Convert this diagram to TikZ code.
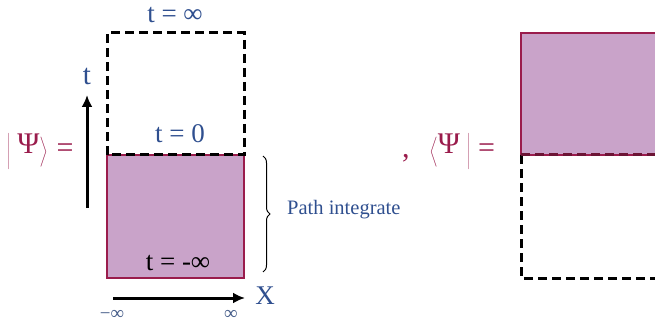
\documentclass[tikz,border=0pt]{standalone}
\usepackage{fontspec}
\setmainfont{Liberation Serif}
\usetikzlibrary{arrows.meta,decorations.pathreplacing}
\definecolor{tblue}{HTML}{2F4F8F}
\definecolor{pred}{HTML}{9A1C4C}
\definecolor{pfill}{HTML}{C9A3C9}
\newcommand\psistrut{\rule[-12pt]{0pt}{30pt}}
\newcommand\psiup{\raisebox{5pt}{Ψ}}
\tikzset{
  dashbox/.style={draw=black,line width=3pt,dash pattern=on 9pt off 5pt},
  solidbox/.style={fill=pfill,draw=pred,line width=1.5pt},
  lbl/.style={text=tblue,font=\fontsize{27}{29}\selectfont,inner sep=0pt},
  axis/.style={line width=3pt,-{Latex[length=12pt,width=11pt]}},
  smalllbl/.style={text=tblue!70!gray,font=\fontsize{19}{20}\selectfont,inner sep=0pt},
  braket/.style={text=pred,font=\fontsize{30}{32}\selectfont,inner sep=0pt}
}
\begin{document}
\begin{tikzpicture}[x=1pt,y=-1pt]
\useasboundingbox (0,0) rectangle (655,323);
% left box
\coordinate (LTL) at (107,33);
\coordinate (LTR) at (244,33);
\coordinate (LML) at (107,155);
\coordinate (LMR) at (244,155);
\coordinate (LBL) at (107,278);
\coordinate (LBR) at (244,278);
\draw[solidbox] (LML) rectangle (LBR);
\draw[dashbox] (LML) -- (LTL) -- (LTR) -- (LMR) -- cycle;
% right box
\coordinate (RTL) at (521,33);
\coordinate (RTR) at (660,33);
\coordinate (RML) at (521,155);
\coordinate (RMR) at (660,155);
\coordinate (RBL) at (521,278);
\coordinate (RBR) at (660,278);
\draw[solidbox] (RTL) rectangle (RMR);
\draw[dashbox] (RML) -- (RBL) -- (RBR) -- (RMR);
\draw[dashbox,draw=pred!70!black] (RML) -- (RMR);
% labels
\node[lbl] (tinf) at (175,15) {t = ∞};
\node[lbl] (tzero) at (180,134) {t = 0};
\node[lbl,text=black] (tminf) at (178,263) {t = -∞};
\node[lbl,font=\fontsize{29}{31}\selectfont] (tlab) at (87,76) {t};
\coordinate (tstart) at (87,208);
\coordinate (tend) at (87,95);
\draw[axis] (tstart) -- (tend);
\coordinate (xstart) at (113,298);
\coordinate (xend) at (245,298);
\draw[axis] (xstart) -- (xend);
\node[lbl] (xlab) at (265,296) {X};
\node[smalllbl] (xmin) at (112,315) {−∞};
\node[smalllbl] (xmax) at (231,315) {∞};
% ket
\node[braket,anchor=base west] (ket) at (7,158) {$\left|\;\mbox{\psiup}\psistrut\right\rangle$\hspace{9pt}=};
\node[braket,anchor=base west] (bra) at (402,158) {,\hspace{20pt}$\left\langle\mbox{\psiup}\psistrut\;\right|$\hspace{8pt}=};
% brace
\coordinate (bt) at (263,156);
\coordinate (bb) at (263,272);
\draw[line width=1pt,decorate,decoration={brace,amplitude=7pt}] (bt) -- (bb);
\node[text=tblue,font=\fontsize{20.5}{22}\selectfont,inner sep=0pt,anchor=west] (pi) at (287,210) {Path integrate};
\end{tikzpicture}
\end{document}
